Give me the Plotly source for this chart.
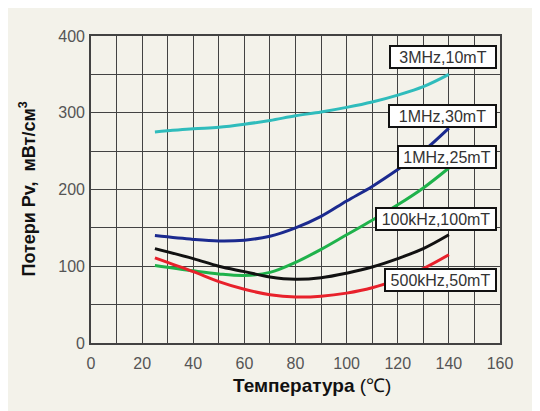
import plotly.graph_objects as go

temps = [25, 40, 50, 60, 70, 80, 90, 100, 110, 120, 130, 140]

cyan_3mhz_10mt = [275, 279, 281, 285, 290, 296, 301, 307, 314, 323, 334, 350]
blue_1mhz_30mt = [140, 135, 133, 134, 139, 150, 165, 185, 204, 226, 250, 280]
green_1mhz_25mt = [101, 94, 90, 88, 92, 105, 122, 141, 160, 180, 202, 228]
black_100khz_100mt = [123, 110, 100, 93, 86, 83, 85, 91, 99, 110, 123, 141]
red_500khz_50mt = [111, 93, 80, 70, 63, 60, 61, 65, 72, 83, 97, 115]

series_names = ["3MHz,10mT", "1MHz,30mT", "1MHz,25mT", "100kHz,100mT", "500kHz,50mT"]
series_values = [cyan_3mhz_10mt, blue_1mhz_30mt, green_1mhz_25mt, black_100khz_100mt, red_500khz_50mt]
series_colors = ["#2fbcbc", "#1b2a8f", "#1fb24b", "#111111", "#e8212b"]

label_y = [372, 296, 242, 162, 82]
label_w = [102, 103, 94, 116, 107]

x_ticks = [0, 20, 40, 60, 80, 100, 120, 140, 160]
y_ticks = [0, 100, 200, 300, 400]

CREAM = "#f3f2ea"
GRID = "#424242"

fig = go.Figure()
for name, vals, col in zip(series_names, series_values, series_colors):
    fig.add_trace(go.Scatter(x=temps, y=vals, mode="lines", name=name,
                             line=dict(color=col, width=3, shape="spline", smoothing=1.0)))

for name, yv, w in zip(series_names, label_y, label_w):
    fig.add_annotation(x=158.8, y=yv, xref="x", yref="y", text=name, showarrow=False,
                       xanchor="right", yanchor="middle",
                       font=dict(family="Liberation Sans, Arial", size=16, color="#333333"),
                       bgcolor="white", bordercolor="#111111", borderwidth=2, borderpad=1,
                       width=w, height=18)

fig.add_annotation(x=-0.154, y=0.5, xref="paper", yref="paper", showarrow=False,
                   text="<b>Потери Pv,  мВт/см<sup>3</sup></b>", textangle=-90,
                   font=dict(family="Liberation Sans, Arial", size=18, color="#111111"),
                   xanchor="center", yanchor="middle")

fig.add_annotation(x=0.54, y=-0.14, xref="paper", yref="paper", showarrow=False,
                   text="<b>Температура</b> (℃)",
                   font=dict(family="Liberation Sans, Arial", size=19, color="#111111"),
                   xanchor="center", yanchor="middle")

fig.update_layout(
    width=532, height=403,
    margin=dict(l=83, r=40, t=28, b=68, autoexpand=False),
    paper_bgcolor=CREAM, plot_bgcolor=CREAM,
    showlegend=False,
    font=dict(family="Liberation Sans, Arial", size=16, color="#555555"),
)
fig.update_xaxes(range=[0, 160], tickvals=x_ticks, ticktext=[str(v) for v in x_ticks],
                 automargin=False,
                 showgrid=True, gridcolor=GRID, gridwidth=1.4,
                 minor=dict(dtick=10, showgrid=True, gridcolor=GRID, gridwidth=1.4),
                 showline=True, linecolor=GRID, linewidth=1.6, mirror=True,
                 ticks="outside", ticklen=5, tickcolor="rgba(0,0,0,0)", zeroline=False)
fig.update_yaxes(range=[0, 400], tickvals=y_ticks, ticktext=[str(v) for v in y_ticks],
                 automargin=False,
                 showgrid=True, gridcolor=GRID, gridwidth=1.4,
                 minor=dict(dtick=50, showgrid=True, gridcolor=GRID, gridwidth=1.4),
                 showline=True, linecolor=GRID, linewidth=1.6, mirror=True,
                 ticks="outside", ticklen=1, tickcolor="rgba(0,0,0,0)", zeroline=False)

fig.write_html("out.html")
